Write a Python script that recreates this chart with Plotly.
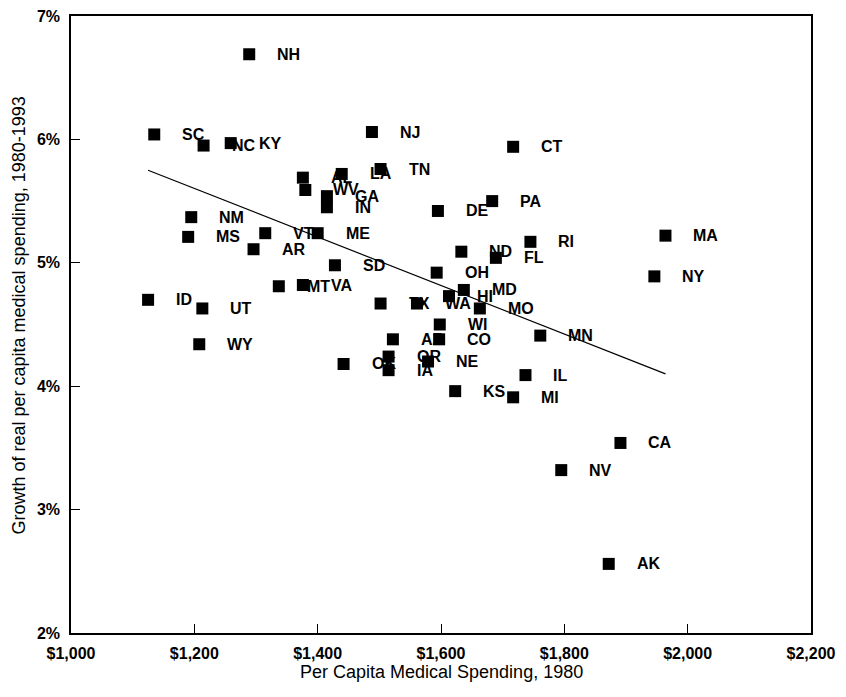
import plotly.graph_objects as go

states = ["NH", "SC", "NC", "KY", "NJ", "CT", "AL", "WV", "LA", "TN",
          "GA", "IN", "PA", "DE", "NM", "MS", "VT", "ME", "AR", "MA",
          "RI", "ND", "FL", "SD", "OH", "NY", "MT", "VA", "MD", "HI",
          "ID", "TX", "WA", "UT", "MO", "WI", "MN", "AZ", "CO", "WY",
          "OR", "NE", "OK", "IA", "IL", "KS", "MI", "CA", "NV", "AK"]

spending_1980 = [1289, 1135, 1215, 1259, 1488, 1717, 1376, 1380, 1439, 1502,
                 1415, 1415, 1683, 1595, 1195, 1190, 1315, 1400, 1296, 1964,
                 1745, 1633, 1689, 1428, 1593, 1946, 1337, 1376, 1637, 1613,
                 1125, 1502, 1561, 1213, 1663, 1598, 1761, 1522, 1597, 1208,
                 1515, 1579, 1442, 1515, 1737, 1623, 1717, 1891, 1795, 1872]

growth_pct = [6.69, 6.04, 5.95, 5.97, 6.06, 5.94, 5.69, 5.59, 5.72, 5.76,
              5.54, 5.45, 5.50, 5.42, 5.37, 5.21, 5.24, 5.24, 5.11, 5.22,
              5.17, 5.09, 5.04, 4.98, 4.92, 4.89, 4.81, 4.82, 4.78, 4.73,
              4.70, 4.67, 4.67, 4.63, 4.63, 4.50, 4.41, 4.38, 4.38, 4.34,
              4.24, 4.20, 4.18, 4.13, 4.09, 3.96, 3.91, 3.54, 3.32, 2.56]

# trend line as drawn in the reference (endpoints)
trend_x = [1125, 1964]
trend_y = [5.75, 4.10]

x_ticks = [1000, 1200, 1400, 1600, 1800, 2000, 2200]
x_tick_labels = ["$1,000", "$1,200", "$1,400", "$1,600", "$1,800", "$2,000", "$2,200"]
y_ticks = [2, 3, 4, 5, 6, 7]
y_tick_labels = ["2%", "3%", "4%", "5%", "6%", "7%"]

x_title = "Per Capita Medical Spending, 1980"
y_title = "Growth of real per capita medical spending, 1980-1993"

FONT = "Liberation Sans, Arial, sans-serif"

fig = go.Figure()
fig.add_trace(go.Scatter(
    x=trend_x, y=trend_y, mode="lines",
    line=dict(color="black", width=1.2),
    showlegend=False, hoverinfo="skip"))
fig.add_trace(go.Scatter(
    x=spending_1980, y=growth_pct, mode="markers",
    marker=dict(symbol="square", size=12, color="black", line=dict(width=0)),
    text=states, showlegend=False))

for s, xv, yv in zip(states, spending_1980, growth_pct):
    fig.add_annotation(
        x=xv, y=yv, text=s, showarrow=False,
        xanchor="left", yanchor="middle", xshift=26,
        font=dict(family=FONT, size=16, color="black", weight="bold"))

# axis titles
fig.add_annotation(
    xref="paper", yref="paper", x=0.5, y=0, text=x_title, showarrow=False,
    xanchor="center", yanchor="middle", yshift=-39,
    font=dict(family=FONT, size=18, color="black"))
fig.add_annotation(
    xref="paper", yref="paper", x=0, y=0.5, text=y_title, showarrow=False,
    textangle=-90, xanchor="center", yanchor="middle", xshift=-53, yshift=9,
    font=dict(family=FONT, size=18, color="black"))

fig.update_layout(
    width=838, height=689,
    margin=dict(l=63, r=35, t=8, b=64),
    paper_bgcolor="white", plot_bgcolor="white",
    font=dict(family=FONT, color="black"),
    xaxis=dict(
        range=[1000, 2200], tickmode="array", tickvals=x_ticks, ticktext=x_tick_labels,
        showgrid=False, zeroline=False, automargin=False,
        showline=True, linecolor="black", linewidth=1.5, mirror=True,
        ticks="inside", ticklen=9, tickwidth=1, tickcolor="black",
        ticklabelstandoff=5, ticklabeloverflow="allow",
        tickfont=dict(family=FONT, size=16, color="black", weight="bold"),
    ),
    yaxis=dict(
        range=[2, 7], tickmode="array", tickvals=y_ticks, ticktext=y_tick_labels,
        showgrid=False, zeroline=False, automargin=False,
        showline=True, linecolor="black", linewidth=1.5, mirror=True,
        ticks="inside", ticklen=9, tickwidth=1, tickcolor="black",
        ticklabelstandoff=6, ticklabeloverflow="allow",
        tickfont=dict(family=FONT, size=16, color="black", weight="bold"),
    ),
)

fig.write_html("out.html")
